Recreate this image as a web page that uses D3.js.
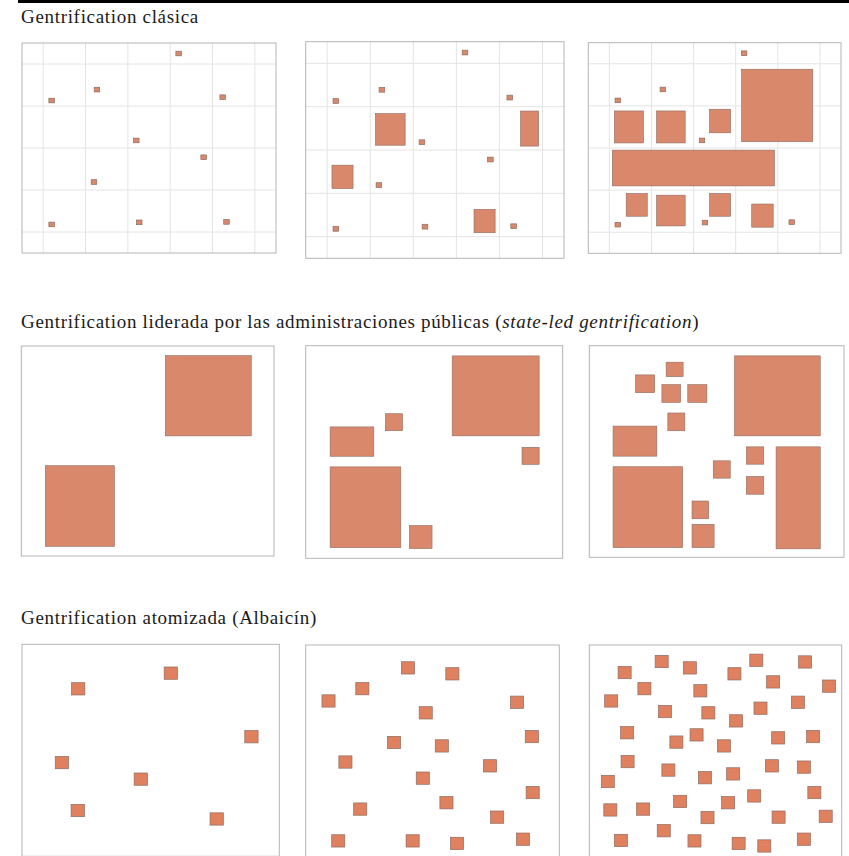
<!DOCTYPE html>
<html>
<head>
<meta charset="utf-8">
<script src="https://cdn.jsdelivr.net/npm/d3@7"></script>
<style>
  body { margin: 0; background: #fff; }
  svg { display: block; }
</style>
</head>
<body>
<svg id="chart" width="849" height="856"></svg>
<script>
// all block coordinates are in "city units": x 0..6, y 0..5 per panel
const titles = [
  "Gentrification clásica",
  "Gentrification liderada por las administraciones públicas (",
  "Gentrification atomizada (Albaicín)"
];
const titleItalic = "state-led gentrification";

const gridX = [0.5, 1.5, 2.5, 3.5, 4.5, 5.5];
const gridY = [0.5, 1.5, 2.5, 3.5, 4.5];

// row 1: small lots, shared by the three stages (centre x, centre y)
const clasicaLots = [
  [3.70, 0.25], [1.77, 1.11], [0.70, 1.37], [4.74, 1.29], [2.70, 2.32],
  [4.29, 2.72], [1.70, 3.31], [0.70, 4.32], [2.77, 4.27], [4.83, 4.26]
];
// row 1: renovated blocks [x0, y0, x1, y1]
const clasicaBlocks2 = [
  [1.62, 1.66, 2.31, 2.39], [4.99, 1.60, 5.41, 2.41],
  [0.61, 2.85, 1.10, 3.39], [3.91, 3.87, 4.40, 4.41]
];
const clasicaBlocks3 = [
  [0.62, 1.62, 1.31, 2.38], [1.62, 1.62, 2.30, 2.38], [2.88, 1.58, 3.38, 2.14],
  [3.64, 0.63, 5.33, 2.35], [0.57, 2.55, 4.42, 3.40], [0.90, 3.58, 1.40, 4.12],
  [1.62, 3.62, 2.30, 4.35], [2.88, 3.58, 3.38, 4.12], [3.88, 3.83, 4.39, 4.38]
];

// row 2: state-led blocks [x0, y0, x1, y1]
const stateBlocks1 = [
  [3.42, 0.23, 5.46, 2.14], [0.57, 2.85, 2.21, 4.77]
];
const stateBlocks2 = [
  [3.42, 0.24, 5.45, 2.12], [1.86, 1.60, 2.26, 2.00], [0.57, 1.91, 1.59, 2.60],
  [5.05, 2.39, 5.45, 2.79], [0.57, 2.85, 2.22, 4.75], [2.42, 4.23, 2.95, 4.77]
];
const stateBlocks3 = [
  [3.42, 0.24, 5.44, 2.13], [1.81, 0.39, 2.21, 0.73], [1.09, 0.69, 1.54, 1.11],
  [1.71, 0.92, 2.15, 1.34], [2.32, 0.92, 2.77, 1.34], [1.85, 1.59, 2.25, 2.01],
  [0.56, 1.90, 1.59, 2.61], [3.70, 2.39, 4.11, 2.80], [2.92, 2.72, 3.32, 3.13],
  [4.40, 2.39, 5.44, 4.80], [3.70, 3.09, 4.11, 3.51], [0.56, 2.86, 2.20, 4.77],
  [2.42, 3.67, 2.81, 4.09], [2.42, 4.22, 2.94, 4.77]
];

// row 3: atomized single houses (centre x, centre y)
const atomized1 = [
  [3.47, 0.68], [1.31, 1.05], [5.35, 2.18], [0.93, 2.79], [2.77, 3.18],
  [1.30, 3.92], [4.54, 4.12]
];
const atomized2 = [
  [2.42, 0.54], [3.47, 0.68], [1.34, 1.03], [0.54, 1.32], [5.00, 1.35],
  [2.84, 1.60], [5.35, 2.16], [2.09, 2.30], [3.22, 2.38], [0.94, 2.76],
  [4.36, 2.85], [2.77, 3.14], [5.37, 3.48], [3.33, 3.72], [1.29, 3.87],
  [4.53, 4.06], [0.77, 4.62], [2.53, 4.62], [3.58, 4.68], [5.14, 4.58]
];
const atomized3 = [
  [1.72, 0.39], [3.97, 0.36], [5.13, 0.40], [0.84, 0.65], [2.39, 0.54],
  [3.45, 0.68], [1.31, 1.03], [4.37, 0.87], [5.70, 0.97], [2.64, 1.08],
  [0.52, 1.32], [4.96, 1.35], [1.80, 1.57], [2.83, 1.60], [4.07, 1.49],
  [3.49, 1.79], [0.90, 2.07], [2.55, 2.12], [2.07, 2.29], [3.20, 2.38],
  [4.49, 2.19], [5.32, 2.16], [0.91, 2.75], [1.88, 2.95], [2.75, 3.13],
  [3.42, 3.04], [4.34, 2.85], [5.10, 2.88], [0.44, 3.22], [5.35, 3.48],
  [2.16, 3.69], [3.30, 3.72], [3.92, 3.56], [0.50, 3.89], [1.28, 3.87],
  [2.81, 4.07], [4.50, 4.06], [5.62, 4.04], [1.77, 4.38], [0.75, 4.61],
  [2.50, 4.62], [3.55, 4.68], [4.16, 4.74], [5.10, 4.58]
];

const svg = d3.select("#chart");
const fillBlock = "#d9886b";
const fillHouse = "#df815f";
const strokeBlock = "#8e6c62";

// top rule
svg.append("rect").attr("x", 18).attr("y", 0).attr("width", 831).attr("height", 3).attr("fill", "#000");

const title = (txt, y) => svg.append("text")
  .attr("x", 21).attr("y", y)
  .style("font-family", "'Liberation Serif', serif")
  .style("font-size", "19px")
  .style("letter-spacing", "0.68px")
  .attr("fill", "#1a1a1a")
  .text(txt);

title(titles[0], 22.5);
const t2 = title(titles[1], 327.5);
t2.append("tspan").style("font-style", "italic").text(titleItalic);
t2.append("tspan").text(")");
title(titles[2], 623.5);

function panel(box, withGrid) {
  const x = d3.scaleLinear().domain([0, 6]).range([box[0], box[2]]);
  const y = d3.scaleLinear().domain([0, 5]).range([box[1], box[3]]);
  const g = svg.append("g");
  g.append("rect")
    .attr("x", box[0]).attr("y", box[1])
    .attr("width", box[2] - box[0]).attr("height", box[3] - box[1])
    .attr("fill", "#fff");
  if (withGrid) {
    g.selectAll("line.gx").data(gridX).join("line")
      .attr("x1", d => x(d)).attr("x2", d => x(d))
      .attr("y1", box[1]).attr("y2", box[3])
      .attr("stroke", "#e4e4e4").attr("stroke-width", 1);
    g.selectAll("line.gy").data(gridY).join("line")
      .attr("y1", d => y(d)).attr("y2", d => y(d))
      .attr("x1", box[0]).attr("x2", box[2])
      .attr("stroke", "#e4e4e4").attr("stroke-width", 1);
  }
  g.append("rect")
    .attr("x", box[0]).attr("y", box[1])
    .attr("width", box[2] - box[0]).attr("height", box[3] - box[1])
    .attr("fill", "none").attr("stroke", "#b4b4b4").attr("stroke-width", 1);
  return { g, x, y };
}

function blocks(p, data) {
  p.g.append("g").selectAll("rect").data(data).join("rect")
    .attr("x", d => p.x(d[0])).attr("y", d => p.y(d[1]))
    .attr("width", d => p.x(d[2]) - p.x(d[0]))
    .attr("height", d => p.y(d[3]) - p.y(d[1]))
    .attr("fill", fillBlock).attr("stroke", strokeBlock).attr("stroke-width", 0.6);
}

function lots(p, data, w, h, fill) {
  p.g.append("g").selectAll("rect").data(data).join("rect")
    .attr("x", d => p.x(d[0] - w / 2)).attr("y", d => p.y(d[1] - h / 2))
    .attr("width", p.x(w) - p.x(0)).attr("height", p.y(h) - p.y(0))
    .attr("fill", fill).attr("stroke", strokeBlock).attr("stroke-width", 0.7);
}

// row 1
const r1 = [[22, 43, 276, 253], [305.7, 41.7, 564, 258.3], [588.3, 42.7, 841, 253.3]];
const r1Blocks = [[], clasicaBlocks2, clasicaBlocks3];
r1.forEach((box, i) => {
  const p = panel(box, true);
  lots(p, clasicaLots, 0.13, 0.11, fillBlock);
  blocks(p, r1Blocks[i]);
});

// row 2
const r2 = [[21.3, 346, 274, 556], [305.7, 345.7, 562.7, 558.3], [589.3, 345.7, 844, 557.3]];
[stateBlocks1, stateBlocks2, stateBlocks3].forEach((d, i) => {
  const p = panel(r2[i], false);
  blocks(p, d);
});

// row 3
const r3 = [[22, 644.3, 279.3, 856.3], [305.7, 645, 559.3, 857], [589.3, 645, 841.7, 857]];
[atomized1, atomized2, atomized3].forEach((d, i) => {
  const p = panel(r3[i], false);
  lots(p, d, 0.31, 0.29, fillHouse);
});
</script>
</body>
</html>
